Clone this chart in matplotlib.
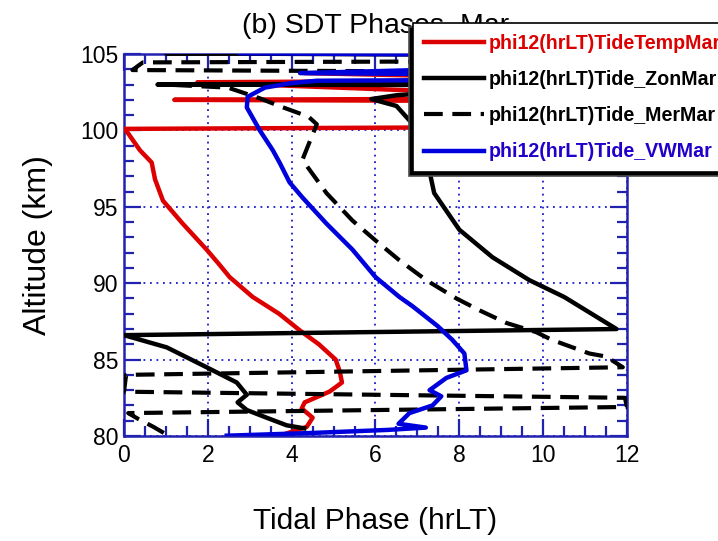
import matplotlib
matplotlib.use("Agg")
import matplotlib.pyplot as plt
from matplotlib.ticker import MultipleLocator

plt.rcParams['font.family'] = ['Liberation Sans', 'DejaVu Sans']

# ---------------- data (phase in hrLT vs altitude in km) ----------------
alt_temp = [80.05, 80.6, 81.2, 81.8, 82.2, 82.9, 83.5, 84.2, 85.0, 85.5, 86.0, 86.9,
            88.0, 89.1, 90.4, 91.3, 92.2, 93.9, 95.4, 96.8, 97.9, 98.7, 99.8, 100.1,
            100.25, 101.9, 102.0, 102.1, 103.15, 103.3, 103.75, 103.85, 104.6, 105.0]
phase_temp = [3.75, 4.36, 4.5, 4.24, 4.31, 4.9, 5.2, 5.15, 5.05, 4.85, 4.65, 4.2,
              3.7, 3.07, 2.52, 2.25, 1.97, 1.4, 0.93, 0.74, 0.66, 0.38, 0.1, 0.0,
              12.0, 11.6, 1.2, 11.8, 1.75, 11.9, 4.3, 11.9, 11.5, 11.8]

alt_zon = [80.5, 80.7, 81.2, 81.7, 82.2, 82.7, 83.5, 84.5, 85.8, 86.6, 87.0, 89.1,
           90.2, 91.7, 93.5, 95.9, 97.3, 99.0, 100.5, 101.6, 102.05, 102.3, 102.6,
           102.95, 103.0, 103.1, 104.0, 104.9, 105.05, 105.2]
phase_zon = [4.3, 3.88, 3.4, 2.93, 2.71, 2.93, 2.69, 1.97, 1.02, 0.0, 11.75, 10.5,
             9.67, 8.79, 8.0, 7.4, 7.29, 7.2, 6.86, 6.5, 5.9, 6.5, 8.0,
             11.9, 0.8, 11.9, 11.5, 11.8, 1.0, 11.0]

alt_mer = [80.2, 80.6, 81.1, 81.5, 81.9, 82.5, 82.9, 84.0, 84.5, 85.2, 85.4, 86.3,
           86.8, 87.4, 88.2, 89.0, 90.2, 91.5, 92.8, 94.1, 95.9, 97.6, 98.1, 99.4,
           100.4, 100.9, 101.3, 101.6, 102.1, 102.8, 103.0, 103.05, 103.5, 103.8,
           103.95, 104.45, 104.55, 105.2]
phase_mer = [0.95, 0.7, 0.35, 0.1, 12.0, 11.95, 0.0, 0.05, 11.9, 11.5, 11.1, 10.2,
             9.83, 9.12, 8.5, 7.93, 7.21, 6.57, 6.0, 5.45, 4.83, 4.38, 4.26, 4.45,
             4.6, 4.4, 4.0, 3.7, 3.24, 2.48, 1.0, 12.0, 11.5, 12.0,
             0.2, 0.45, 12.0, 11.8]

alt_vw = [80.02, 80.2, 80.4, 80.55, 80.8, 81.5, 82.0, 82.6, 83.0, 83.8, 84.3, 85.4,
          86.3, 87.2, 88.5, 89.1, 90.4, 92.2, 93.9, 95.6, 96.6, 97.9, 98.7, 100.0,
          101.5, 102.2, 102.8, 103.1, 103.25, 103.35, 103.6, 103.75, 104.3, 104.9,
          105.05, 105.2]
phase_vw = [2.45, 4.5, 6.3, 7.2, 6.55, 6.81, 7.36, 7.57, 7.29, 7.69, 8.17, 8.12,
            7.83, 7.48, 6.88, 6.57, 6.0, 5.45, 4.83, 4.26, 3.95, 3.71, 3.55, 3.24,
            2.93, 2.95, 3.36, 4.0, 4.6, 12.0, 11.8, 4.2, 12.0, 11.9,
            2.76, 12.0]

labels = ["phi12(hrLT)TideTempMar", "phi12(hrLT)Tide_ZonMar",
          "phi12(hrLT)Tide_MerMar", "phi12(hrLT)Tide_VWMar"]
x_ticks = [0, 2, 4, 6, 8, 10, 12]
y_ticks = [80, 85, 90, 95, 100, 105]

# ---------------- style ----------------
RED = '#dd0000'
BLUE = '#0000dd'
AXC = '#2222b0'
GRIDC = '#1a1acc'

W, H = 718, 541
fig = plt.figure(figsize=(W / 100, H / 100), dpi=100)
ax = fig.add_axes([124 / W, 1 - 436 / H, (627 - 124) / W, (436 - 54) / H])

lw = 3.2
ax.plot(phase_temp, alt_temp, color=RED, lw=lw, label=labels[0], zorder=3)
ax.plot(phase_zon, alt_zon, color='black', lw=lw, label=labels[1], zorder=3)
ax.plot(phase_mer, alt_mer, color='black', lw=3.0, dashes=(4.5, 2.3),
        label=labels[2], zorder=3)
ax.plot(phase_vw, alt_vw, color=BLUE, lw=lw, label=labels[3], zorder=3)

ax.set_xlim(0, 12)
ax.set_ylim(80, 105)
ax.set_xticks(x_ticks)
ax.set_yticks(y_ticks)
ax.xaxis.set_minor_locator(MultipleLocator(0.5))
ax.yaxis.set_minor_locator(MultipleLocator(1))
ax.tick_params(which='both', direction='in', top=True, right=True, color=AXC,
               width=1.6, labelsize=16.5)
ax.tick_params(which='major', length=12)
ax.tick_params(which='minor', length=7)
ax.tick_params(axis='x', pad=6)
ax.tick_params(axis='y', pad=4)
for s in ax.spines.values():
    s.set_color(AXC)
    s.set_linewidth(1.8)

ax.grid(True, which='major', color=GRIDC, linestyle=(0, (1, 2.6)), linewidth=1.3,
        zorder=1)
ax.set_axisbelow(True)

ax.set_xlabel("Tidal Phase (hrLT)", fontsize=21.5)
ax.set_ylabel("Altitude (km)", fontsize=23)
ax.xaxis.label.set_va('center')
ax.yaxis.label.set_va('center')
ax.xaxis.set_label_coords(0.5, -(521 - 436) / 382)
ax.yaxis.set_label_coords((38 - 124) / 503, 0.5)

ax.set_title("(b) SDT Phases_Mar", fontsize=20.5, pad=0,
             y=1 + (54 - 33) / 382, va='baseline')

leg = ax.legend(loc='upper left', bbox_to_anchor=(413 / W, 1 - 23 / H),
                bbox_transform=fig.transFigure, borderaxespad=0,
                prop={'size': 14.1, 'weight': 'bold'}, frameon=True, fancybox=False,
                edgecolor='black', framealpha=1, borderpad=0.55,
                handlelength=3.06, handletextpad=0.27, labelspacing=0.88,
                shadow={'ox': -3, 'oy': -3, 'facecolor': 'black', 'alpha': 1.0})
leg.get_frame().set_linewidth(1.2)
for t, c in zip(leg.get_texts(), [RED, 'black', 'black', '#2200cc']):
    t.set_color(c)
leg.set_zorder(10)

fig.savefig("out.png", dpi=100)
